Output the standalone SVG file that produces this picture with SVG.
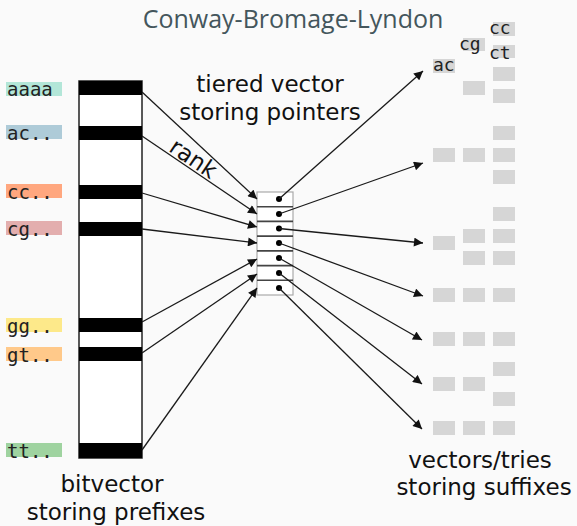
<svg xmlns="http://www.w3.org/2000/svg" width="577" height="526" viewBox="0 0 577 526">
  <defs>
    <marker id="arrow" viewBox="0 0 10 10" refX="10" refY="5" markerWidth="10" markerHeight="9" markerUnits="userSpaceOnUse" orient="auto">
      <path d="M0,0 L10,5 L0,10 z" fill="#111"/>
    </marker>
    <style>
      .title { font-family: "Open Sans", "Noto Sans", sans-serif; font-weight: 400; font-size: 25px; fill: #44565c; }
      .cap { font-family: "DejaVu Sans", Verdana, sans-serif; font-size: 23px; fill: #111; }
      .mono { font-family: "DejaVu Sans Mono", "Liberation Mono", monospace; font-size: 18px; fill: #222; }
      .lbl { font-size: 19px; }
      .band { fill: #000; }
      .cell { fill: #d6d6d6; }
      .edge { stroke: #1a1a1a; stroke-width: 1.3; fill: none; marker-end: url(#arrow); }
      .dot { fill: #000; }
    </style>
  </defs>

  <rect width="577" height="526" fill="#fafafa"/>

  <text class="title" x="293" y="28" text-anchor="middle">Conway-Bromage-Lyndon</text>

  <!-- prefix labels -->
  <g id="prefix-labels">
    <g id="label-aaaa"><rect x="6" y="82" width="56" height="14" fill="#b3e6d8"/><text class="mono lbl" x="7" y="96">aaaa</text></g>
    <g id="label-ac"><rect x="6" y="125" width="56" height="14" fill="#aecbd8"/><text class="mono lbl" x="7" y="140">ac..</text></g>
    <g id="label-cc"><rect x="6" y="184" width="56" height="14" fill="#ffa77f"/><text class="mono lbl" x="7" y="199">cc..</text></g>
    <g id="label-cg"><rect x="6" y="221" width="56" height="14" fill="#e3aeae"/><text class="mono lbl" x="7" y="236">cg..</text></g>
    <g id="label-gg"><rect x="6" y="318" width="56" height="14" fill="#fde98a"/><text class="mono lbl" x="7" y="333">gg..</text></g>
    <g id="label-gt"><rect x="6" y="347" width="56" height="14" fill="#ffc98a"/><text class="mono lbl" x="7" y="362">gt..</text></g>
    <g id="label-tt"><rect x="6" y="443" width="56" height="14" fill="#9fd3a0"/><text class="mono lbl" x="7" y="458">tt..</text></g>
  </g>

  <!-- bitvector of prefixes -->
  <g id="bitvector">
    <rect x="79" y="81" width="63" height="377" fill="#fff" stroke="#222" stroke-width="1.5"/>
    <rect class="band" x="79" y="81" width="63" height="14"/>
    <rect class="band" x="79" y="126" width="63" height="14"/>
    <rect class="band" x="79" y="185" width="63" height="14"/>
    <rect class="band" x="79" y="222" width="63" height="14"/>
    <rect class="band" x="79" y="318" width="63" height="14"/>
    <rect class="band" x="79" y="347" width="63" height="14"/>
    <rect class="band" x="79" y="443" width="63" height="15"/>
    <text class="cap" x="112" y="492" text-anchor="middle">bitvector</text>
    <text class="cap" x="116" y="520" text-anchor="middle">storing prefixes</text>
  </g>

  <!-- tiered vector of pointers -->
  <g id="tiered-vector">
    <text class="cap" x="270" y="92" text-anchor="middle">tiered vector</text>
    <text class="cap" x="270" y="120" text-anchor="middle">storing pointers</text>
    <rect x="257" y="192" width="36" height="103" fill="#fff" stroke="#aaa" stroke-width="1.2"/>
    <g stroke="#444" stroke-width="1.6">
      <line x1="257" y1="206.7" x2="293" y2="206.7"/>
      <line x1="257" y1="221.4" x2="293" y2="221.4"/>
      <line x1="257" y1="236.1" x2="293" y2="236.1"/>
      <line x1="257" y1="250.9" x2="293" y2="250.9"/>
      <line x1="257" y1="265.6" x2="293" y2="265.6"/>
      <line x1="257" y1="280.3" x2="293" y2="280.3"/>
    </g>
    <circle class="dot" cx="279" cy="199" r="3"/>
    <circle class="dot" cx="279" cy="214" r="3"/>
    <circle class="dot" cx="279" cy="228.5" r="3"/>
    <circle class="dot" cx="279" cy="243" r="3"/>
    <circle class="dot" cx="279" cy="258" r="3"/>
    <circle class="dot" cx="279" cy="273" r="3"/>
    <circle class="dot" cx="279" cy="288" r="3"/>
  </g>

  <!-- suffix containers -->
  <g id="suffixes">
    <rect class="cell" x="433" y="59" width="22" height="14"/>
    <text class="mono" x="433" y="71">ac</text>
    <rect class="cell" x="463" y="38" width="22" height="13"/>
    <text class="mono" x="459" y="50">cg</text>
    <rect class="cell" x="493" y="22" width="22" height="14"/>
    <text class="mono" x="489" y="34">cc</text>
    <rect class="cell" x="493" y="45" width="22" height="13"/>
    <text class="mono" x="489" y="59">ct</text>

    <!-- column 3 -->
    <rect class="cell" x="493" y="67" width="22" height="14"/>
    <rect class="cell" x="493" y="89" width="22" height="14"/>
    <rect class="cell" x="493" y="126" width="22" height="14"/>
    <rect class="cell" x="493" y="148" width="22" height="14"/>
    <rect class="cell" x="493" y="170" width="22" height="14"/>
    <rect class="cell" x="493" y="207" width="22" height="14"/>
    <rect class="cell" x="493" y="229" width="22" height="14"/>
    <rect class="cell" x="493" y="251" width="22" height="14"/>
    <rect class="cell" x="493" y="288" width="22" height="14"/>
    <rect class="cell" x="493" y="332" width="22" height="14"/>
    <rect class="cell" x="493" y="362" width="22" height="14"/>
    <rect class="cell" x="493" y="392" width="22" height="14"/>
    <rect class="cell" x="493" y="421" width="22" height="14"/>
    <!-- column 2 -->
    <rect class="cell" x="463" y="81" width="22" height="14"/>
    <rect class="cell" x="463" y="148" width="22" height="14"/>
    <rect class="cell" x="463" y="229" width="22" height="14"/>
    <rect class="cell" x="463" y="251" width="22" height="14"/>
    <rect class="cell" x="463" y="288" width="22" height="14"/>
    <rect class="cell" x="463" y="332" width="22" height="14"/>
    <rect class="cell" x="463" y="377" width="22" height="14"/>
    <rect class="cell" x="463" y="421" width="22" height="14"/>
    <!-- column 1 -->
    <rect class="cell" x="433" y="148" width="22" height="14"/>
    <rect class="cell" x="433" y="236" width="22" height="14"/>
    <rect class="cell" x="433" y="288" width="22" height="14"/>
    <rect class="cell" x="433" y="332" width="22" height="14"/>
    <rect class="cell" x="433" y="377" width="22" height="14"/>
    <rect class="cell" x="433" y="421" width="22" height="14"/>

    <text class="cap" x="480" y="468" text-anchor="middle">vectors/tries</text>
    <text class="cap" x="484" y="495" text-anchor="middle">storing suffixes</text>
  </g>

  <!-- connectors -->
  <g id="connectors">
    <line class="edge" x1="142" y1="92" x2="257" y2="199"/>
    <line class="edge" x1="142" y1="136" x2="257" y2="214"/>
    <line class="edge" x1="142" y1="193" x2="257" y2="227"/>
    <line class="edge" x1="142" y1="229" x2="257" y2="243"/>
    <line class="edge" x1="142" y1="322" x2="257" y2="259"/>
    <line class="edge" x1="142" y1="353" x2="257" y2="274"/>
    <line class="edge" x1="142" y1="450" x2="257" y2="288"/>

    <line class="edge" x1="279" y1="199" x2="423" y2="71"/>
    <line class="edge" x1="279" y1="214" x2="423" y2="163"/>
    <line class="edge" x1="279" y1="228.5" x2="423" y2="243"/>
    <line class="edge" x1="279" y1="243" x2="423" y2="296"/>
    <line class="edge" x1="279" y1="258" x2="422" y2="340"/>
    <line class="edge" x1="279" y1="273" x2="422" y2="384"/>
    <line class="edge" x1="279" y1="288" x2="422" y2="429"/>

    <text class="cap" x="0" y="0" text-anchor="middle" transform="translate(189,165) rotate(34)">rank</text>
  </g>
</svg>
